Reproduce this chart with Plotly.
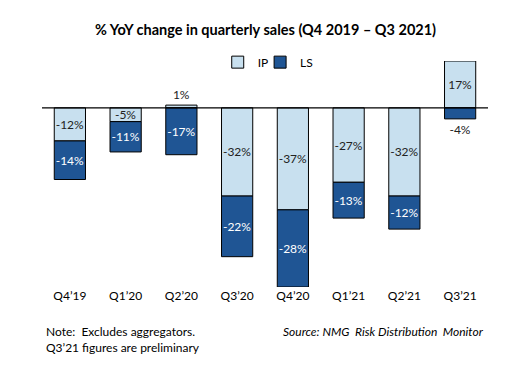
import plotly.graph_objects as go

categories = ["Q4\u201919", "Q1\u201920", "Q2\u201920", "Q3\u201920", "Q4\u201920", "Q1\u201921", "Q2\u201921", "Q3\u201921"]
ip_values = [-12, -5, 1, -32, -37, -27, -32, 17]
ls_values = [-14, -11, -17, -22, -28, -13, -12, -4]
ip_textpos = ["inside", "inside", "outside", "inside", "inside", "inside", "inside", "inside"]
ls_textpos = ["inside", "inside", "inside", "inside", "inside", "inside", "inside", "outside"]

FONT = "Lato"
FS = 12

fig = go.Figure()
fig.add_trace(go.Bar(
    x=categories, y=ip_values, name="IP", legend="legend",
    marker=dict(color="#C8E0EF", line=dict(color="black", width=1)),
    text=[f"{v}%" for v in ip_values], textposition=ip_textpos, textangle=0,
    insidetextanchor="middle", constraintext="none",
    textfont=dict(family=FONT, size=FS, color="#222222"),
    insidetextfont=dict(family=FONT, size=FS, color="#222222"),
    outsidetextfont=dict(family=FONT, size=FS, color="#222222"),
))
fig.add_trace(go.Bar(
    x=categories, y=ls_values, name="LS", legend="legend2",
    marker=dict(color="#1F5594", line=dict(color="black", width=1)),
    text=[f"{v}%" for v in ls_values], textposition=ls_textpos, textangle=0,
    insidetextanchor="middle", constraintext="none",
    textfont=dict(family=FONT, size=FS, color="white"),
    insidetextfont=dict(family=FONT, size=FS, color="white"),
    outsidetextfont=dict(family=FONT, size=FS, color="#222222"),
))

legend_style = dict(orientation="h", xanchor="left", y=0.995, yanchor="middle",
                    font=dict(family=FONT, size=FS), itemwidth=30,
                    bgcolor="rgba(0,0,0,0)")

fig.update_layout(
    width=515, height=366,
    barmode="relative", bargap=0.44,
    margin=dict(l=34, r=35, t=53, b=87, autoexpand=False),
    paper_bgcolor="white", plot_bgcolor="white",
    font=dict(family=FONT, size=FS, color="black"),
    title=dict(text="<b>% YoY change in quarterly sales (Q4 2019 \u2013 Q3 2021)</b>",
               x=0.5, xanchor="center", y=0.94, yanchor="middle",
               font=dict(family=FONT, size=14.5, color="black")),
    legend=dict(x=0.394, **legend_style),
    legend2=dict(x=0.489, **legend_style),
    xaxis=dict(showline=False, ticks="", showgrid=False,
               tickfont=dict(family=FONT, size=FS, color="black")),
    yaxis=dict(range=[-65, 17], visible=False, showgrid=False,
               zeroline=True, zerolinecolor="black", zerolinewidth=1),
    showlegend=True,
)

fig.add_shape(type="line", xref="paper", yref="y", x0=0, x1=1, y0=0, y1=0,
              line=dict(color="black", width=1.3), layer="above")

fig.add_annotation(text="Note:  Excludes aggregators.<br>Q3\u201921 figures are preliminary",
                   xref="paper", yref="paper", x=0.005, y=-0.155, xanchor="left", yanchor="top",
                   align="left", showarrow=False, font=dict(family=FONT, size=FS, color="black"))
fig.add_annotation(text="<i>Source: NMG  Risk Distribution  Monitor</i>",
                   xref="paper", yref="paper", x=0.995, y=-0.155, xanchor="right", yanchor="top",
                   align="right", showarrow=False, font=dict(family=FONT, size=FS, color="black"))

fig.write_html("out.html")
